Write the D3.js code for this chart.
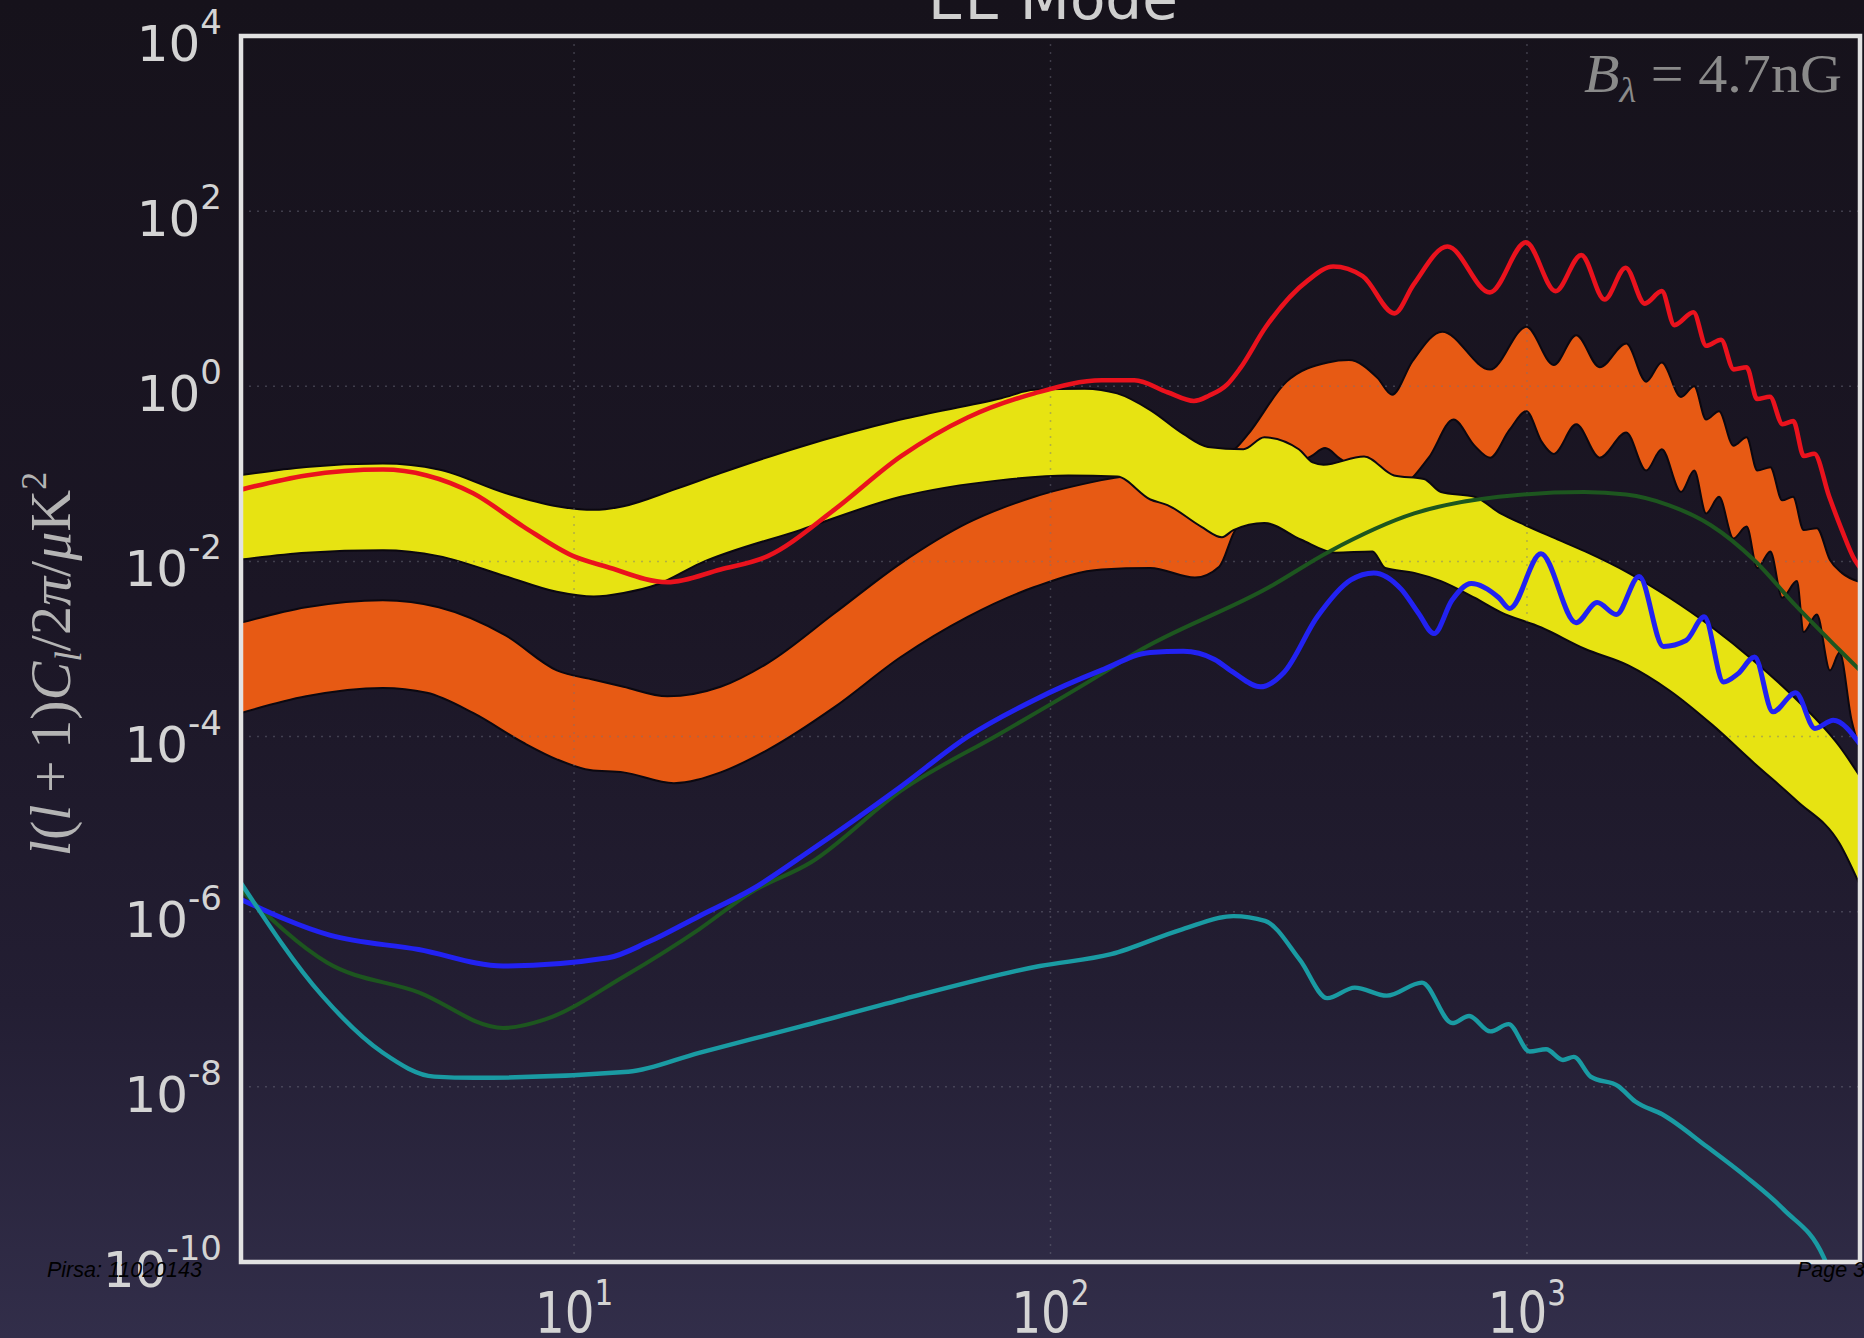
<!DOCTYPE html>
<html>
<head>
<meta charset="utf-8">
<script src="https://cdn.jsdelivr.net/npm/d3@7"></script>
<style>
html, body { margin: 0; padding: 0; overflow: hidden; background: #16121b; }
svg { display: block; }
</style>
</head>
<body>
<svg id="chart" width="1864" height="1338"></svg>
<script>
// each series is a list of [l, l(l+1)C_l/2pi] pairs
var yellowUpper = [[2, 0.097], [2.74, 0.12], [3.97, 0.131], [5.2, 0.112], [7.2, 0.060], [9.2, 0.0427], [11.0, 0.0388], [12.7, 0.0427], [16.2, 0.066], [20.3, 0.102], [29.8, 0.203], [48.5, 0.417], [78.8, 0.73], [92.5, 0.91], [118, 0.94], [138, 0.83], [162, 0.535], [190, 0.286], [214, 0.203], [254, 0.191], [281, 0.261], [332, 0.191], [355, 0.135], [374, 0.127], [455, 0.158], [526, 0.096], [608, 0.0875], [660, 0.062], [776, 0.0547], [880, 0.0353], [992, 0.0259], [1147, 0.0183], [1325, 0.013], [1632, 0.0074], [1991, 0.00385], [2449, 0.00176], [2995, 0.00073], [3686, 0.000262], [4530, 7.7e-5], [5000, 3.5e-5]];
var yellowLower = [[2, 0.0105], [2.74, 0.0126], [3.97, 0.0134], [5.2, 0.0115], [7.2, 0.00675], [9.2, 0.0045], [11.0, 0.00397], [12.7, 0.00436], [14.9, 0.00542], [18.4, 0.00952], [29.8, 0.0228], [48.5, 0.0547], [78.8, 0.0848], [109, 0.096], [138, 0.093], [162, 0.051], [176, 0.044], [207, 0.025], [229, 0.0189], [242, 0.0228], [281, 0.0275], [335, 0.0178], [396, 0.0126], [474, 0.013], [504, 0.0084], [580, 0.0074], [660, 0.00596], [776, 0.00385], [880, 0.00264], [1072, 0.00176], [1325, 0.001], [1632, 0.00065], [1991, 0.000336], [2449, 0.000136], [2995, 5.0e-5], [3686, 1.84e-5], [4530, 6.0e-6], [5000, 2.0e-6]];
var orangeUpper = [[2, 0.0020], [2.74, 0.0030], [3.97, 0.00361], [5.2, 0.0030], [7.2, 0.00142], [9.2, 0.00057], [11.0, 0.000446], [12.7, 0.00037], [15.7, 0.000288], [20.3, 0.00037], [25.5, 0.00069], [35.2, 0.00256], [48.5, 0.00952], [67, 0.0275], [92.5, 0.0547], [128, 0.0848], [175, 0.112], [221, 0.153], [245, 0.197], [259, 0.278], [313, 1.13], [382, 1.87], [423, 1.99], [486, 1.24], [521, 0.80], [575, 1.93], [664, 4.2], [837, 1.55], [997, 4.77], [1138, 1.75], [1269, 3.83], [1421, 1.65], [1616, 3.08], [1779, 1.13], [1918, 1.87], [2105, 0.755], [2244, 1.0], [2377, 0.417], [2530, 0.519], [2712, 0.21], [2891, 0.261], [3044, 0.109], [3242, 0.119], [3433, 0.0499], [3618, 0.0547], [3809, 0.0228], [4059, 0.024], [4325, 0.0104], [4580, 0.0074], [5000, 0.0058]];
var orangeLower = [[2, 0.000186], [2.74, 0.000288], [3.97, 0.000358], [4.91, 0.000316], [6.14, 0.000186], [7.83, 8.5e-5], [9.2, 5.5e-5], [10.8, 4.15e-5], [12.7, 3.9e-5], [16.2, 2.94e-5], [20.3, 3.9e-5], [25.5, 7.06e-5], [35.2, 0.000217], [48.5, 0.00081], [67, 0.00233], [92.5, 0.0051], [128, 0.0081], [162, 0.0084], [201, 0.00654], [226, 0.0087], [242, 0.0208], [267, 0.0514], [311, 0.112], [352, 0.158], [377, 0.197], [405, 0.149], [455, 0.102], [541, 0.0748], [622, 0.153], [701, 0.417], [776, 0.21], [837, 0.153], [918, 0.315], [997, 0.519], [1075, 0.23], [1138, 0.169], [1269, 0.368], [1421, 0.153], [1616, 0.296], [1779, 0.109], [1918, 0.191], [2105, 0.062], [2244, 0.109], [2377, 0.0353], [2530, 0.0547], [2712, 0.0183], [2891, 0.025], [3044, 0.0084], [3242, 0.013], [3433, 0.00385], [3686, 0.00596], [3809, 0.00156], [4059, 0.00248], [4325, 0.00057], [4530, 0.00091], [4800, 0.000154], [5000, 7.06e-5]];
var redLine = [[2, 0.066], [2.74, 0.096], [3.97, 0.112], [4.91, 0.096], [6.14, 0.060], [7.83, 0.025], [9.97, 0.0115], [11.7, 0.0087], [15.7, 0.0058], [20.3, 0.0081], [25.5, 0.0115], [35.2, 0.039], [48.5, 0.158], [67, 0.44], [92.5, 0.83], [128, 1.17], [150, 1.17], [176, 0.855], [200, 0.68], [215, 0.78], [235, 1.05], [250, 1.6], [283, 4.75], [347, 16.2], [392, 23.3], [452, 18.1], [527, 6.8], [578, 14.5], [681, 39.4], [836, 11.8], [995, 44], [1148, 12.2], [1300, 31.5], [1455, 9.8], [1611, 22.6], [1767, 8.8], [1919, 12.2], [2039, 5.0], [2236, 7.0], [2378, 2.9], [2555, 3.4], [2716, 1.56], [2891, 1.65], [3041, 0.716], [3236, 0.76], [3439, 0.368], [3622, 0.40], [3811, 0.16], [4008, 0.17], [4306, 0.0555], [4581, 0.0228], [4874, 0.0104], [5000, 0.0085]];
var greenLine = [[2, 1.77e-6], [3.03, 2.63e-7], [4.72, 1.2e-7], [7.1, 4.7e-8], [8.7, 5.9e-8], [12.7, 1.81e-7], [18.3, 6.3e-7], [23.5, 1.66e-6], [31.5, 3.7e-6], [48.5, 2.4e-5], [78.8, 1.1e-4], [128, 5.2e-4], [150, 8.9e-4], [288, 5.1e-3], [385, 1.3e-2], [580, 3.53e-2], [873, 5.47e-2], [1316, 6.2e-2], [1615, 5.8e-2], [1982, 4.4e-2], [2432, 2.59e-2], [2990, 1.05e-2], [3670, 3.1e-3], [4505, 1.0e-3], [5000, 5.7e-4]];
var blueLine = [[2, 1.38e-6], [3.07, 5.4e-7], [4.72, 3.7e-7], [7.1, 2.4e-7], [11.8, 2.98e-7], [14.3, 4.5e-7], [18.3, 8.9e-7], [23.5, 1.77e-6], [31.5, 5.1e-6], [48.5, 2.68e-5], [67, 9.95e-5], [92.5, 2.62e-4], [128, 5.73e-4], [162, 9.14e-4], [190, 9.4e-4], [221, 7.6e-4], [242, 5.4e-4], [276, 3.7e-4], [309, 5.4e-4], [363, 2.33e-3], [427, 6.15e-3], [477, 7.4e-3], [545, 4.8e-3], [592, 2.56e-3], [638, 1.5e-3], [696, 3.6e-3], [764, 5.6e-3], [873, 3.85e-3], [920, 2.9e-3], [1070, 1.22e-2], [1268, 2.0e-3], [1404, 3.4e-3], [1540, 2.48e-3], [1720, 6.75e-3], [1933, 1.07e-3], [2157, 1.25e-3], [2356, 2.33e-3], [2586, 4.2e-4], [2770, 5.2e-4], [3005, 8.1e-4], [3282, 1.92e-4], [3664, 3.16e-4], [4022, 1.24e-4], [4394, 1.54e-4], [5000, 8.2e-5]];
var cyanLine = [[2, 2.13e-6], [2.96, 1.1e-7], [3.97, 2.45e-8], [5.09, 1.31e-8], [6.19, 1.27e-8], [13.0, 1.49e-8], [18.3, 2.45e-8], [29.8, 4.87e-8], [49, 1.0e-7], [95, 2.4e-7], [134, 3.27e-7], [189, 6.3e-7], [242, 8.9e-7], [282, 7.85e-7], [334, 2.8e-7], [381, 1.03e-7], [435, 1.36e-7], [508, 1.1e-7], [602, 1.55e-7], [697, 5.35e-8], [756, 6.45e-8], [838, 4.3e-8], [915, 5.2e-8], [1013, 2.53e-8], [1097, 2.69e-8], [1190, 2.03e-8], [1254, 2.2e-8], [1360, 1.31e-8], [1554, 1.02e-8], [1688, 6.8e-9], [1926, 4.83e-9], [2384, 2.08e-9], [2876, 9.5e-10], [3460, 3.96e-10], [4193, 1.14e-10], [4400, 6e-11]];

var xTicks = [10, 100, 1000];
var yTicks = [1e4, 1e2, 1, 1e-2, 1e-4, 1e-6, 1e-8, 1e-10];

var svg = d3.select("#chart"),
	width = +svg.attr("width"),
	height = +svg.attr("height");

var plot = {left: 241, top: 36, right: 1860, bottom: 1262}; //frame of the axes

var x = d3.scaleLog().domain([2, 5000]).range([plot.left, plot.right]);
var y = d3.scaleLog().domain([1e-10, 1e4]).range([plot.bottom, plot.top]);

// page background, dark at the top and lighter purple at the bottom
var defs = svg.append("defs");
var grad = defs.append("linearGradient").attr("id", "bg").attr("x1", 0).attr("y1", 0).attr("x2", 0).attr("y2", 1);
grad.append("stop").attr("offset", "0%").attr("stop-color", "#16121b");
grad.append("stop").attr("offset", "45%").attr("stop-color", "#1b1625");
grad.append("stop").attr("offset", "75%").attr("stop-color", "#231e33");
grad.append("stop").attr("offset", "100%").attr("stop-color", "#322e4a");
svg.append("rect").attr("width", width).attr("height", height).attr("fill", "url(#bg)");

defs.append("clipPath").attr("id", "clip")
	.append("rect")
	.attr("x", plot.left).attr("y", plot.top)
	.attr("width", plot.right - plot.left).attr("height", plot.bottom - plot.top);

var line = d3.line()
	.x(function(d) { return x(d[0]); })
	.y(function(d) { return y(d[1]); })
	.curve(d3.curveMonotoneX);

function bandPath(upper, lower) { //upper edge forwards, lower edge back, closed
	return line(upper) + line(lower.slice().reverse()).replace(/^M/, "L") + "Z";
}

var g = svg.append("g").attr("clip-path", "url(#clip)");

g.append("path").attr("d", bandPath(orangeUpper, orangeLower))
	.attr("fill", "#e75a14").attr("stroke", "#0b0810").attr("stroke-width", 2);
g.append("path").attr("d", bandPath(yellowUpper, yellowLower))
	.attr("fill", "#e7e312").attr("stroke", "#0b0810").attr("stroke-width", 2);

// dotted grid on the labelled decades
g.selectAll(".hgrid").data(yTicks.slice(1, -1)).enter().append("line")
	.attr("x1", plot.left).attr("x2", plot.right)
	.attr("y1", function(d) { return y(d); }).attr("y2", function(d) { return y(d); })
	.attr("stroke", "#707080").attr("stroke-opacity", 0.45)
	.attr("stroke-width", 1.5).attr("stroke-dasharray", "2,6");
g.selectAll(".vgrid").data(xTicks).enter().append("line")
	.attr("y1", plot.top).attr("y2", plot.bottom)
	.attr("x1", function(d) { return x(d); }).attr("x2", function(d) { return x(d); })
	.attr("stroke", "#707080").attr("stroke-opacity", 0.45)
	.attr("stroke-width", 1.5).attr("stroke-dasharray", "2,6");

var lines = [
	{data: greenLine, color: "#1d561f", w: 4},
	{data: blueLine, color: "#2222f2", w: 5},
	{data: redLine, color: "#ea121d", w: 4.6},
	{data: cyanLine, color: "#1a9ba3", w: 4.4}
];
g.selectAll(".curve").data(lines).enter().append("path")
	.attr("d", function(d) { return line(d.data); })
	.attr("fill", "none")
	.attr("stroke", function(d) { return d.color; })
	.attr("stroke-width", function(d) { return d.w; })
	.attr("stroke-linejoin", "round");

// axes frame
svg.append("rect")
	.attr("x", plot.left).attr("y", plot.top)
	.attr("width", plot.right - plot.left).attr("height", plot.bottom - plot.top)
	.attr("fill", "none").attr("stroke", "#e2e2e2").attr("stroke-width", 4.5);

// y tick labels, 10 with a raised exponent
var yl = svg.selectAll(".ylab").data(yTicks).enter().append("text")
	.attr("x", 222)
	.attr("y", function(d) { return y(d) + 25; })
	.attr("text-anchor", "end")
	.attr("font-family", "DejaVu Sans")
	.attr("font-size", 50)
	.attr("fill", "#d4d4d4");
yl.append("tspan").text("10");
yl.append("tspan").attr("dy", -27).attr("font-size", 34)
	.text(function(d) { return String(Math.round(Math.log10(d))); });

// x tick labels, condensed
var xl = svg.selectAll(".xlab").data(xTicks).enter().append("text")
	.attr("transform", function(d) { return "translate(" + x(d) + ",1333) scale(0.82,1)"; })
	.attr("text-anchor", "middle")
	.attr("font-family", "DejaVu Sans")
	.attr("font-size", 57)
	.attr("fill", "#d4d4d4");
xl.append("tspan").text("10");
xl.append("tspan").attr("dy", -28).attr("font-size", 36)
	.text(function(d) { return String(Math.round(Math.log10(d))); });

// title, mostly above the top of the frame
svg.append("text")
	.attr("x", 1053).attr("y", 19)
	.attr("text-anchor", "middle")
	.attr("font-family", "DejaVu Sans")
	.attr("font-size", 58)
	.attr("fill", "#cfcfcf")
	.text("EE Mode");

// y axis title
var ytitle = svg.append("text")
	.attr("transform", "translate(70,664) rotate(-90)")
	.attr("text-anchor", "middle")
	.attr("font-family", "Liberation Serif")
	.attr("font-size", 58)
	.attr("fill", "#b4b4b4");
[["l", 1], ["(", 0], ["l", 1], ["\u2009+\u20091)", 0], ["C", 1]].forEach(function(p) {
	ytitle.append("tspan").attr("font-style", p[1] ? "italic" : "normal").text(p[0]);
});
ytitle.append("tspan").attr("font-style", "italic").attr("font-size", 38).attr("dy", 11).text("l");
ytitle.append("tspan").attr("dy", -11).text("/2");
ytitle.append("tspan").attr("font-style", "italic").text("\u03c0");
ytitle.append("tspan").text("/");
ytitle.append("tspan").attr("font-style", "italic").text("\u03bc");
ytitle.append("tspan").text("K");
ytitle.append("tspan").attr("font-size", 36).attr("dy", -24).text("2");

// field strength note, top right
var note = svg.append("text")
	.attr("x", 1842).attr("y", 92)
	.attr("text-anchor", "end")
	.attr("font-family", "Liberation Serif")
	.attr("font-size", 54)
	.attr("textLength", 258).attr("lengthAdjust", "spacingAndGlyphs")
	.attr("fill", "#8a8a8a");
note.append("tspan").attr("font-style", "italic").text("B");
note.append("tspan").attr("font-style", "italic").attr("font-size", 36).attr("dy", 10).text("\u03bb");
note.append("tspan").attr("dy", -10).text(" = 4.7nG");

// slide footer
svg.append("text")
	.attr("x", 47).attr("y", 1277)
	.attr("font-family", "Liberation Sans")
	.attr("font-style", "italic")
	.attr("font-size", 22)
	.attr("textLength", 155).attr("lengthAdjust", "spacingAndGlyphs")
	.attr("fill", "#000")
	.text("Pirsa: 11020143");
svg.append("text")
	.attr("x", 1797).attr("y", 1277)
	.attr("font-family", "Liberation Sans")
	.attr("font-style", "italic")
	.attr("font-size", 22)
	.attr("textLength", 68).attr("lengthAdjust", "spacingAndGlyphs")
	.attr("fill", "#000")
	.text("Page 3");
</script>
</body>
</html>
